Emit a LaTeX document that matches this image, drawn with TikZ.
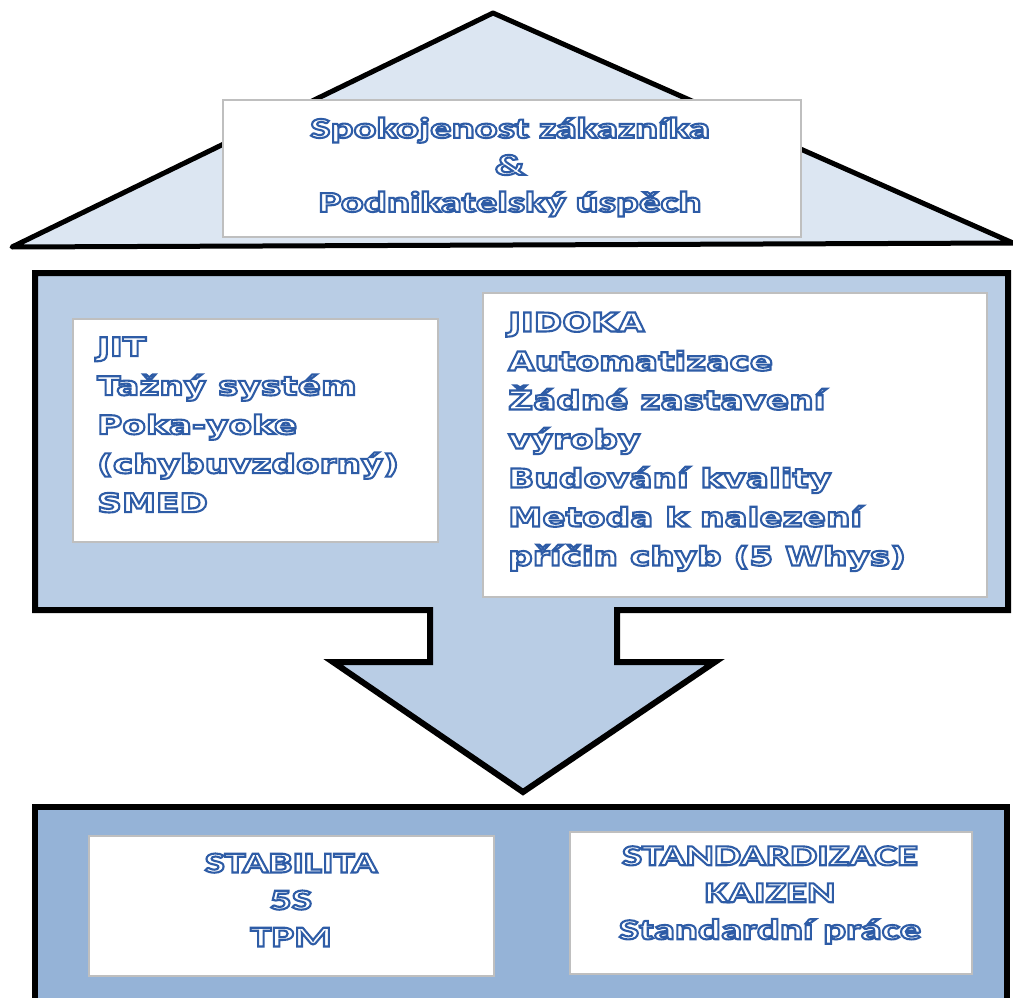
\documentclass[tikz,border=0pt]{standalone}
\usepackage{fontspec}
\newfontfamily\capfont[FakeStretch=1.48]{Carlito}
\newfontfamily\widefont[FakeStretch=1.32]{DejaVu Sans}
\definecolor{roofblue}{HTML}{DCE6F2}
\definecolor{pillarblue}{HTML}{B9CDE5}
\definecolor{baseblue}{HTML}{95B3D7}
\definecolor{boxgray}{HTML}{BFBFBF}
% outlined lettering: glyphs filled white and stroked blue (text render mode 2)
\newcommand{\rimon}{\special{pdf:literal direct 2 Tr 2.1 w 1 1 1 rg 0.18 0.36 0.65 RG}}
\newcommand{\rimoff}{\special{pdf:literal direct 0 Tr}}
\newcommand{\rim}[1]{\rimon#1\rimoff}
\tikzset{
  shell/.style={draw=black, line width=6pt, line join=miter},
  panel/.style={draw=boxgray, fill=white, line width=2pt, inner sep=0pt},
  lettering/.style={text=white, inner sep=0pt, font=\bfseries},
}
\begin{document}
\begin{tikzpicture}[x=1pt, y=-1pt]
\clip (0,0) rectangle (1013,998);
\fill[white] (0,0) rectangle (1013,998);

% roof
\draw[shell, line width=5pt, fill=roofblue, line join=round]
  (12,247) -- (493,13) -- (1013,243) -- cycle;
\node[panel, minimum width=578pt, minimum height=137pt] (goal) at (512,168.5) {};
\node[lettering, align=center, font=\capfont\bfseries\fontsize{29}{37}\selectfont] (goaltext) at (510,167)
  {\rim{Spokojenost zákazníka}\\ \rim{\&}\\ \rim{Podnikatelský úspěch}};

% middle block with the downward arrow
\draw[shell, fill=pillarblue]
  (35,273) -- (1008,273) -- (1008,610) -- (617,610) -- (617,662) -- (715,662)
  -- (523,792) -- (333,662) -- (430,662) -- (430,610) -- (35,610) -- cycle;
\node[panel, minimum width=365pt, minimum height=223pt] (jit) at (255.5,430.5) {};
\node[panel, minimum width=504pt, minimum height=304pt] (jidoka) at (735,445) {};
\node[lettering, align=left, anchor=north west, font=\widefont\bfseries\fontsize{26}{39}\selectfont] (jittext) at (97,337)
  {\rim{JIT}\\ \rim{Tažný systém}\\ \rim{Poka-yoke}\\ \rim{(chybuvzdorný)}\\ \rim{SMED}};
\node[lettering, align=left, anchor=north west, font=\widefont\bfseries\fontsize{26}{39}\selectfont] (jidokatext) at (508,312)
  {\rim{JIDOKA}\\ \rim{Automatizace}\\ \rim{Žádné zastavení}\\ \rim{výroby}\\ \rim{Budování kvality}\\ \rim{Metoda k nalezení}\\ \rim{příčin chyb (5 Whys)}};

% foundation
\draw[shell, fill=baseblue] (35,807) rectangle (1007,1010);
\node[panel, minimum width=405pt, minimum height=140pt] (stab) at (291.5,906) {};
\node[panel, minimum width=402pt, minimum height=142pt] (std) at (771,903) {};
\node[lettering, align=center, font=\capfont\bfseries\fontsize{29}{37}\selectfont] (stabtext) at (291,900)
  {\rim{STABILITA}\\ \rim{5S}\\ \rim{TPM}};
\node[lettering, align=center, font=\capfont\bfseries\fontsize{29}{37}\selectfont] (stdtext) at (770,895)
  {\rim{STANDARDIZACE}\\ \rim{KAIZEN}\\ \rim{Standardní práce}};
\end{tikzpicture}
\end{document}
